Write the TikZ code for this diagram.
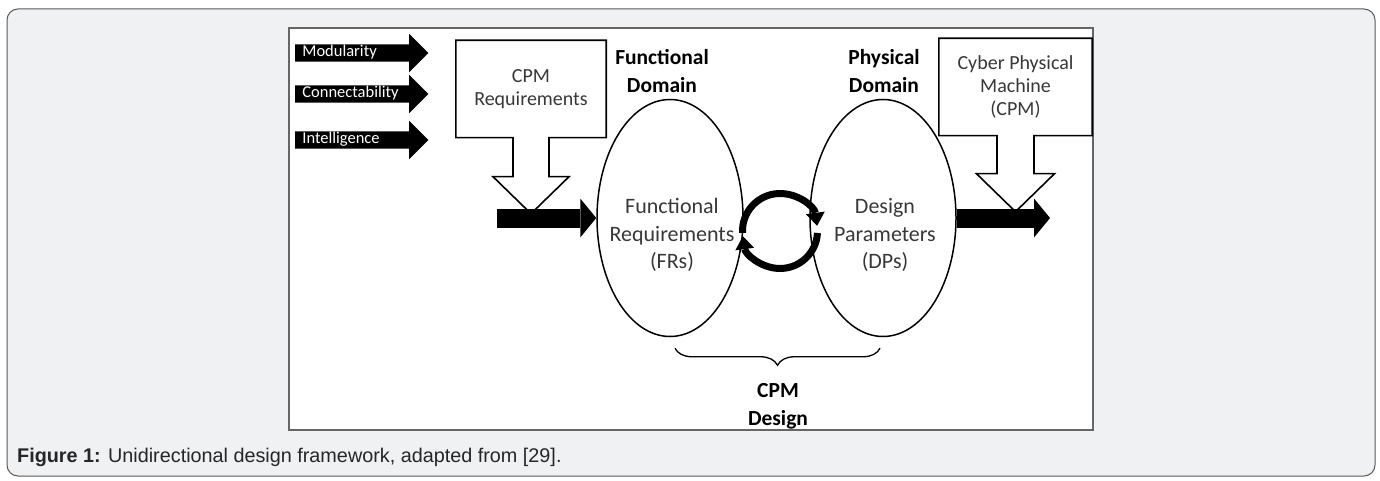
\documentclass[tikz,border=0pt]{standalone}
\usepackage{fontspec}
\setmainfont{Carlito}
\newfontfamily\capfont{Liberation Sans}
\usepackage{tikz}
\usetikzlibrary{arrows.meta,shapes.geometric,shapes.arrows,positioning,decorations.pathreplacing,backgrounds}

\definecolor{panelgray}{HTML}{F0F1F3}
\definecolor{txtgray}{HTML}{383838}

\begin{document}
\begin{tikzpicture}[x=1pt, y=1pt,
    lblarrow/.style = {single arrow, fill=black, text=white, anchor=tail,
        font=\fontsize{16.5}{18}\selectfont, text width=110pt, align=left,
        text height=11pt, text depth=3pt, inner xsep=7pt, inner ysep=1.5pt,
        single arrow head extend=10.5pt, single arrow tip angle=90},
    boxtxt/.style = {minimum width=#1, minimum height=97pt, inner sep=0pt, align=center,
        text=txtgray, font=\fontsize{20}{23}\selectfont},
    hollow/.style = {draw=black, fill=white, line width=1.6pt, line join=miter},
    flow/.style = {line width=19pt, -{Triangle[length=16pt, width=39pt, line width=0pt]}},
    domellipse/.style = {ellipse, draw=black, line width=1.5pt, minimum width=146pt, minimum height=237pt},
    domtxt/.style = {align=center, text=txtgray, font=\fontsize{22}{27.5}\selectfont},
    headtxt/.style = {align=center, font=\bfseries\fontsize{21.5}{28}\selectfont},
    cycarrow/.style = {line width=7pt, -{Triangle[length=13pt, width=19pt, line width=0pt]}}]

\useasboundingbox (0,0) rectangle (1380,480);

% inputs on the left
\node[lblarrow] (modul) at (295,427) {Modularity};
\node[lblarrow] (conn) at (295,386) {Connectability};
\node[lblarrow] (intel) at (295,340) {Intelligence};

% requirement boxes, their outlines go behind the text
\node[boxtxt=150pt] (req) at (531,391) {CPM\\Requirements};
\node[boxtxt=153pt] (cpm) at (1015.5,393) {Cyber Physical\\Machine\\(CPM)};

\begin{scope}[on background layer]
% panel and figure frame
\draw[fill=panelgray, draw=black!65, line width=1pt, rounded corners=11pt] (7,4) rectangle (1375,471);
\draw[fill=white, draw=black!60, line width=1.4pt] (289,50) rectangle (1093,452);
\begin{scope}[yshift=5.5pt]
\draw[hollow] (req.south west) -- (req.north west) -- (req.north east) -- (req.south east)
    -- ([xshift=18pt]req.south) -- ++(0,-39) -- ++(20,0) -- ++(-38,-37) -- ++(-38,37)
    -- ++(20,0) -- ++(0,39) -- cycle;
\end{scope}
\begin{scope}[yshift=3.5pt]
\draw[hollow] (cpm.south west) -- (cpm.north west) -- (cpm.north east) -- (cpm.south east)
    -- ([xshift=18.5pt]cpm.south) -- ++(0,-38) -- ++(20.5,0) -- ++(-39,-38) -- ++(-39,38)
    -- ++(20.5,0) -- ++(0,38) -- cycle;
\end{scope}
\end{scope}

% the two domains
\node[domellipse] (fr) at (670,262) {};
\node[domellipse] (dp) at (883,262) {};
\node[domtxt] (frtxt) at (672,245) {Functional\\Requirements\\(FRs)};
\node[domtxt] (dptxt) at (885,245) {Design\\Parameters\\(DPs)};
\node[headtxt] (fdom) at (662,409) {Functional\\Domain};
\node[headtxt] (pdom) at (884,409) {Physical\\Domain};

% flow through the framework
\coordinate (in) at (497,262);
\coordinate (out) at (1050,262);
\draw[flow] (in) -- (fr.west);
\draw[flow] (dp.east) -- (out);

% zigzag between domains
\coordinate (cyc) at (780,249);
\draw[cycarrow] ([shift={(183:37.5)}]cyc) arc[start angle=183, end angle=8, radius=37.5];
\draw[cycarrow] ([shift={(-3:37.5)}]cyc) arc[start angle=-3, end angle=-172, radius=37.5];

% design brace
\draw[line width=1.3pt, decorate, decoration={brace, amplitude=17pt}]
    ([shift={(-3,-11)}]dp.south) -- ([shift={(5,-11)}]fr.south);
\node[headtxt] (design) at (778,74) {CPM\\Design};

% caption
\node[anchor=west, inner sep=0pt, font=\capfont\fontsize{19.8}{22}\selectfont, text=black!85] (cap)
    at (17,23) {\textbf{Figure 1:} Unidirectional design framework, adapted from [29].};
\end{tikzpicture}
\end{document}
